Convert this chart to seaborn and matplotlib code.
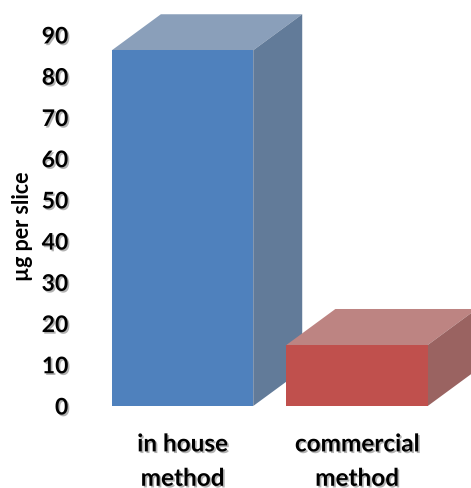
import matplotlib
matplotlib.use("Agg")
import matplotlib.pyplot as plt
import matplotlib.patheffects as pe
from matplotlib.patches import Polygon
import seaborn as sns
import pandas as pd

categories = ["in house\nmethod", "commercial\nmethod"]
values = [86.3, 14.8]
front_colors = ["#4F81BD", "#C0504D"]
top_colors = ["#8A9FBA", "#BD8482"]
side_colors = ["#627B99", "#9A6361"]
y_ticks = [0, 10, 20, 30, 40, 50, 60, 70, 80, 90]

sns.set_theme(style="white")
plt.rcParams["font.family"] = ["Lato", "DejaVu Sans"]

fig = plt.figure(figsize=(4.71, 4.88), dpi=100)
W, H = 471, 488
ax = fig.add_axes([85 / W, (H - 406) / H, (W - 85) / W, (406 - 35) / H])

df = pd.DataFrame({"method": categories, "value": values})
sns.barplot(data=df, x="method", y="value", hue="method", palette=front_colors,
            width=0.81, ax=ax, legend=False, saturation=1)

ax.set_xlim(-0.559, 1.653)
ax.set_ylim(0, 90)
ax.set_yticks(y_ticks)
for s in ax.spines.values():
    s.set_visible(False)

# depth offsets (styling)
dx = 49 / 174.5
dy = 36 / (406 - 35) * 90

for i, p in enumerate(ax.patches):
    x0 = p.get_x()
    x1 = x0 + p.get_width()
    y1 = p.get_height()
    z = 2 + i
    p.set_zorder(z + 0.2)
    p.set_edgecolor("none")
    top = Polygon([(x0, y1), (x1, y1), (x1 + dx, y1 + dy), (x0 + dx, y1 + dy)],
                  closed=True, facecolor=top_colors[i], edgecolor="none",
                  zorder=z, clip_on=False)
    side = Polygon([(x1, 0), (x1 + dx, dy), (x1 + dx, y1 + dy), (x1, y1)],
                   closed=True, facecolor=side_colors[i], edgecolor="none",
                   zorder=z, clip_on=False)
    ax.add_patch(top)
    ax.add_patch(side)

shadow = [pe.SimplePatchShadow(offset=(1.2, -1.2), shadow_rgbFace="#555555", alpha=0.45), pe.Normal()]

ax.tick_params(axis="y", length=0, pad=12)
ax.tick_params(axis="x", length=0, pad=19)
for lab in ax.get_yticklabels():
    lab.set_fontsize(16.5)
    lab.set_fontweight("bold")
    lab.set_color("black")
    lab.set_path_effects(shadow)
for lab in ax.get_xticklabels():
    lab.set_fontsize(17.5)
    lab.set_fontweight("bold")
    lab.set_color("black")
    lab.set_linespacing(1.6)
    lab.set_path_effects(shadow)

ax.set_xlabel("")
ax.set_ylabel("µg per slice", fontsize=15.5, fontweight="bold", color="black")
ax.yaxis.set_label_coords(-52 / (W - 85), (406 - 226) / (406 - 35))

fig.savefig("out.png", dpi=100)
